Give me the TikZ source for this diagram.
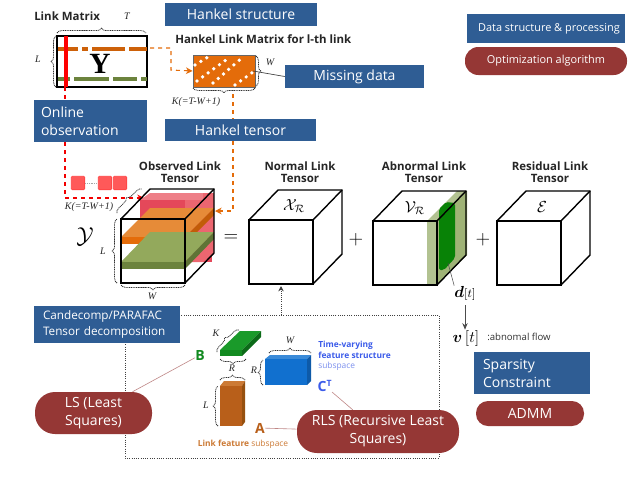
\documentclass[tikz,border=0pt]{standalone}
\usepackage{amsmath,amssymb}
\usepackage{fontspec}
\setmainfont{Open Sans}
\newfontfamily\serifit{Liberation Serif}
\usetikzlibrary{arrows.meta,decorations.pathreplacing,calc}
\definecolor{bluebox}{HTML}{2F5D94}
\definecolor{redbox}{HTML}{953735}
\definecolor{orng}{HTML}{E46C0A}
\definecolor{orngtop}{HTML}{E68B38}
\definecolor{olive}{HTML}{7F9A48}
\definecolor{olivetop}{HTML}{93A95C}
\definecolor{rback}{HTML}{E4485A}
\definecolor{rpale}{HTML}{EE7F88}
\definecolor{rside}{HTML}{EC6670}
\definecolor{bfront}{HTML}{1170CF}
\definecolor{btop}{HTML}{3A8AD8}
\definecolor{bside}{HTML}{0E5AA8}
\definecolor{gfront}{HTML}{128A20}
\definecolor{gtop}{HTML}{1A9A2A}
\definecolor{gside}{HTML}{0C6A18}
\definecolor{brfront}{HTML}{B85F1A}
\definecolor{brtop}{HTML}{CC7A35}
\definecolor{brside}{HTML}{96500F}
\definecolor{txtblue}{HTML}{3B5BEA}
\definecolor{txtbl}{HTML}{7C90EE}
\tikzset{
 x=0.75pt,y=-0.75pt,
 bbox/.style={fill=bluebox,text=white,inner sep=0pt,font=\fontsize{10.5}{13.5}\selectfont},
 rbox/.style={fill=redbox,text=white,rounded corners=9pt,inner sep=0pt,align=center,font=\fontsize{10.5}{13.5}\selectfont},
 title/.style={font=\fontsize{8.6}{9}\selectfont\bfseries,align=center,inner sep=0pt,text=black!85},
 lab/.style={font=\fontsize{7.5}{8}\selectfont\itshape\serifit,inner sep=0pt,text=black!85},
 brc/.style={draw=black!80,dash pattern=on .8pt off .5pt,line width=.55pt,decorate,decoration={brace,amplitude=3.6pt}},
 cube/.style={draw=black,line width=1.05pt,line join=miter},
 thin link/.style={draw=redbox!60,line width=.45pt},
 dred/.style={draw=red!95!black,dashed,line width=.8pt},
 dorg/.style={draw=orng,dashed,line width=.8pt},
 wdots/.style={draw=white,line width=2.8pt,line cap=round,dash pattern=on 0pt off 5.2pt},
}
\newcommand{\mycube}[2]{%
 \draw[cube] (#1,#2) rectangle ++(64,64);
 \draw[cube] (#1,#2) -- ++(29,-30) -- ++(64,0) -- ++(0,64) -- ++(-29,30);
 \draw[cube] (#1+64,#2) -- ++(29,-30);
}
\begin{document}
\begin{tikzpicture}
\useasboundingbox (0,0) rectangle (640,480);
\fill[white] (0,0) rectangle (640,480);

% ---------- dotted decomposition box
\draw[black!75,densely dotted,line width=.7pt] (125,315) rectangle (439,458);

% ---------- blue boxes
\node[bbox,minimum width=152pt*.75,minimum height=23pt*.75] (hstruct) at (241,14.5) {Hankel structure};
\node[bbox,minimum width=151pt*.75,minimum height=22pt*.75] (htensor) at (240.5,130) {Hankel tensor};
\node[bbox,minimum width=139pt*.75,minimum height=23pt*.75] (missing) at (354.5,76.5) {Missing data};
\node[bbox,minimum width=158pt*.75,minimum height=29pt*.75,font=\fontsize{8.2}{10}\selectfont] (legendb) at (546,28.5) {\hspace*{4.5pt}Data structure \& processing};
\node[rbox,minimum width=162pt*.75,minimum height=28pt*.75,rounded corners=10pt,font=\fontsize{8.2}{10}\selectfont] (legendr) at (546,61) {Optimization algorithm};
\node[bbox,minimum width=113pt*.75,minimum height=42pt*.75,align=left,text width=99pt*.75] (online) at (90.5,121) {Online\\observation};
\node[rbox,minimum width=108pt*.75,minimum height=25pt*.75] (admm) at (530,413.5) {ADMM};
\node[bbox,minimum width=116pt*.75,minimum height=42pt*.75,align=left,text width=98pt*.75] (sparse) at (532,373) {Sparsity\\Constraint};

% ---------- Link matrix
\node[title,anchor=west] (lmt) at (34,16) {Link Matrix};
\node[draw=black,line width=.8pt,minimum width=90pt*.75,minimum height=51pt*.75,inner sep=0pt] (Ym) at (102,61.5) {};
\fill[orng!90!black] (57.5,47) rectangle (146.5,51);
\fill[olive!85!black] (57.5,77) rectangle (146.5,81);
\foreach \x in {80,90,127}{\fill[white] (\x-2,47) rectangle (\x+2,51);}
\foreach \x in {72,111,139}{\fill[white] (\x-2,77) rectangle (\x+2,81);}
\fill[red] (64,36) rectangle (68,87);
\node[inner sep=0pt,font=\fontsize{22}{22}\selectfont\bfseries\serifit] (Yl) at (100,64) {Y};
\draw[brc] (57,33) -- (146,33);
\draw[brc] (56,87) -- (56,36);
\node[lab] (Tl) at (127,16) {T};
\node[lab] (Ll) at (38,59) {L};

% ---------- Hankel matrix
\node[title,anchor=west] (hlm) at (175,39) {Hankel Link Matrix for l-th link};
\node[draw=black!60,fill=orng,line width=.6pt,minimum width=62pt*.75,minimum height=32pt*.75,inner sep=0pt] (Hm) at (224,71) {};
\draw[wdots] (195,65) -- (208,57);
\draw[wdots] (197,81) -- (230,57);
\draw[wdots] (213,83) -- (243,57);
\draw[wdots] (235,85) -- (253,72);
\draw[brc] (256,56) -- (256,86);
\draw[brc] (255,88) -- (193,88);
\node[lab] (Wl) at (270,62) {W};
\node[lab] (Kl) at (196,102) {K(=T-W+1)};
\coordinate (hdot) at (253,71);
\draw[black!75,line width=.5pt] (hdot) -- (missing.west);

% ---------- connectors from the matrices
\coordinate (m1) at (150,48);
\coordinate (m2) at (171,48);
\coordinate (m3) at (171,70);
\draw[dorg,-{Stealth[length=5pt,width=5pt]}] (m1) -- (m2) -- (m3) -- (Hm.west);
\coordinate (hb) at (233,94);
\coordinate (hc) at (233,211);
\coordinate (hd) at (215,211);
\draw[dorg] (hb) -- (htensor.north -| hb);
\draw[dorg,-{Stealth[length=5pt,width=5pt]}] (htensor.south -| hb) -- (hc) -- (hd);
\coordinate (ra) at (65,87);
\coordinate (rc) at (65,198);
\coordinate (rd) at (144,198);
\draw[dred] (ra) -- (online.north -| ra);
\draw[dred,-{Stealth[length=5pt,width=5pt]}] (online.south -| ra) -- (rc) -- (rd);

% ---------- red squares
\foreach \n/\x in {a/71,b/98,c/113}{
 \node[fill=red!65,draw=red!75,line width=.4pt,rounded corners=.8pt,minimum size=13.5pt*.75,inner sep=0pt] (sq\n) at (\x+7,183) {};
}
\draw[black!35,densely dotted] (sqa.east) -- (sqb.west);

% ---------- Observed tensor
\node[title] (t1) at (180,172) {Observed Link\\Tensor};
\fill[rpale] (140,200) -- (150,193) -- (212,193) -- (212,200) -- cycle;
\fill[rback] (140,200) rectangle (212,262);
\fill[rside] (203,193) rectangle (214,254);
\fill[rside] (185,262) -- (203,262) -- (214,254) -- (214,200) -- (185,200) -- cycle;
\fill[white] (121,219) rectangle (185,283);
% orange slab
\fill[orngtop] (121,237) -- (150,208) -- (214,208) -- (185,237) -- cycle;
\fill[orng] (121,237) rectangle (185,244);
\fill[orng!85!black] (185,237) -- (214,208) -- (214,215) -- (185,244) -- cycle;
% green slab
\fill[olivetop] (121,262) -- (150,232) -- (214,232) -- (185,262) -- cycle;
\fill[olive!85!black] (121,262) rectangle (185,269);
\fill[olive!75!black] (185,262) -- (214,232) -- (214,239) -- (185,269) -- cycle;
\mycube{121}{219}
\node[inner sep=0pt,font=\fontsize{18}{18}\selectfont] (Yc) at (85,237) {$\mathcal{Y}$};
\draw[brc] (117,283) -- (117,219);
\draw[brc] (185,285) -- (121,285);
\draw[brc] (117,213) -- (142,189);
\node[lab] (k1) at (89,207) {K(=T-W+1)};
\node[lab] (l1) at (103,251) {L};
\node[lab] (w1) at (152,296) {W};

% ---------- Normal
\node[title] (t2) at (300,172) {Normal Link\\Tensor};
\mycube{249}{220}
\node[inner sep=0pt,font=\fontsize{12}{12}\selectfont] (xr) at (294,206) {$\mathcal{X}_{\mathcal{R}}$};

% ---------- Abnormal
\node[title] (t3) at (424,172) {Abnormal Link\\Tensor};
\fill[olive!60!white] (427,221) -- (457,191) -- (467,191) -- (437,221) -- cycle;
\fill[olive!60!white] (427,221) rectangle (437,285);
\fill[olive!75!white] (437,221) -- (467,191) -- (467,255) -- (437,285) -- cycle;
\fill[green!50!black,opacity=.95,rounded corners=1.5pt] (439,209) -- (446,202) -- (455,203) -- (455,258) -- (444,270) -- (439,270) -- cycle;
\mycube{373}{221}
\node[inner sep=0pt,font=\fontsize{12}{12}\selectfont] (vr) at (415,208) {$\mathcal{V}_{\mathcal{R}}$};
\coordinate (dt0) at (448,263);
\node[inner sep=0pt,font=\fontsize{12.5}{12.5}\selectfont] (dt) at (465,293) {$\boldsymbol{d}{\scriptstyle[t]}$};
\draw[black!70,line width=.4pt] (dt0) -- (dt.north west);
\node[inner sep=0pt,font=\fontsize{12.5}{12.5}\selectfont] (vt) at (466,338) {$\boldsymbol{v}\,[t]$};
\coordinate (dts) at (465,305);
\draw[black!70,line width=.6pt,-{Stealth[length=5pt,width=4pt]}] (dts) -- (vt.north -| dts);
\node[inner sep=0pt,anchor=west,font=\fontsize{7.2}{9}\selectfont,text=black!80] (abf) at (487,337) {:abnomal flow};

% ---------- Residual
\node[title] (t4) at (550,172) {Residual Link\\Tensor};
\mycube{497}{221}
\node[inner sep=0pt,font=\fontsize{12}{12}\selectfont] (ee) at (542,207) {$\mathcal{E}$};

\node[inner sep=0pt,font=\fontsize{14}{14}\selectfont] (eq) at (231,238) {$=$};
\node[inner sep=0pt,font=\fontsize{14}{14}\selectfont] (p1) at (356,240) {$+$};
\node[inner sep=0pt,font=\fontsize{14}{14}\selectfont] (p2) at (483,240) {$+$};

% ---------- decomposition
\coordinate (da) at (281,315);
\coordinate (db) at (281,286);
\draw[black!75,densely dotted,line width=.6pt,-{Stealth[length=4pt,width=4pt]}] (da) -- (db);
\node[bbox,minimum width=146pt*.75,minimum height=37pt*.75,align=left,text width=128pt*.75,font=\fontsize{8.8}{12}\selectfont] (cand) at (107,324.5) {Candecomp/PARAFAC\\Tensor decomposition};

% green bar B
\fill[gtop] (220,350) -- (240,331) -- (261,331) -- (242,350) -- cycle;
\fill[gfront] (220,350) rectangle (242,356);
\fill[gside] (242,350) -- (261,331) -- (261,337) -- (242,356) -- cycle;
\draw[brc] (217,352) -- (239,330);
\draw[brc] (246,359) -- (220,359);
\node[lab] (kk) at (216,333) {K};
\node[lab] (rr1) at (232,368) {R};
% blue box C
\fill[btop] (265,359) -- (270,355) -- (311,355) -- (307,359) -- cycle;
\fill[bside] (307,359) -- (311,355) -- (311,381) -- (307,385) -- cycle;
\fill[bfront] (265,359) rectangle (307,385);
\draw[brc] (269,353) -- (311,353);
\draw[brc] (263,385) -- (263,360);
\node[lab] (ww) at (290,340) {W};
\node[lab] (rr2) at (254,370) {R};
% brown box A
\fill[brtop] (220,386) -- (224,381) -- (245,381) -- (242,386) -- cycle;
\fill[brside] (242,386) -- (245,381) -- (245,422) -- (242,426) -- cycle;
\fill[brfront] (220,386) rectangle (242,426);
\draw[brc] (220,380) -- (245,380);
\draw[brc] (218,426) -- (218,386);
\node[lab] (ll2) at (206,405) {L};

\node[inner sep=0pt,anchor=west,font=\fontsize{6.3}{8.1}\selectfont\bfseries,text=txtblue,align=left] (tv) at (318,349.5) {Time-varying\\feature structure};
\node[inner sep=0pt,anchor=west,font=\fontsize{6.3}{8.1}\selectfont,text=txtbl] (tv2) at (318,366) {subspace};
\node[inner sep=0pt,font=\fontsize{10.5}{12}\selectfont\bfseries,text=txtblue] (cc) at (325,386) {C\textsuperscript{\fontsize{6.5}{7}\selectfont T}};
\node[inner sep=0pt,font=\fontsize{10.5}{12}\selectfont\bfseries,text=gfront] (bb) at (200,355) {B};
\node[inner sep=0pt,font=\fontsize{10.5}{12}\selectfont\bfseries,text=brfront] (aa) at (260,428) {A};
\node[inner sep=0pt,font=\fontsize{6.3}{8}\selectfont,text=brtop] (lf) at (243,444) {\textbf{Link feature} subspace};

\node[rbox,minimum width=117pt*.75,minimum height=42pt*.75,rounded corners=15pt] (ls) at (93.5,413) {LS (Least\\Squares)};
\node[rbox,minimum width=162pt*.75,minimum height=43pt*.75,rounded corners=15pt] (rls) at (378,431.5) {RLS (Recursive Least\\Squares)};
\draw[thin link] (ls) -- (bb);
\draw[thin link] (aa) -- (rls);
\draw[thin link] (cc) -- (rls);
\end{tikzpicture}
\end{document}
